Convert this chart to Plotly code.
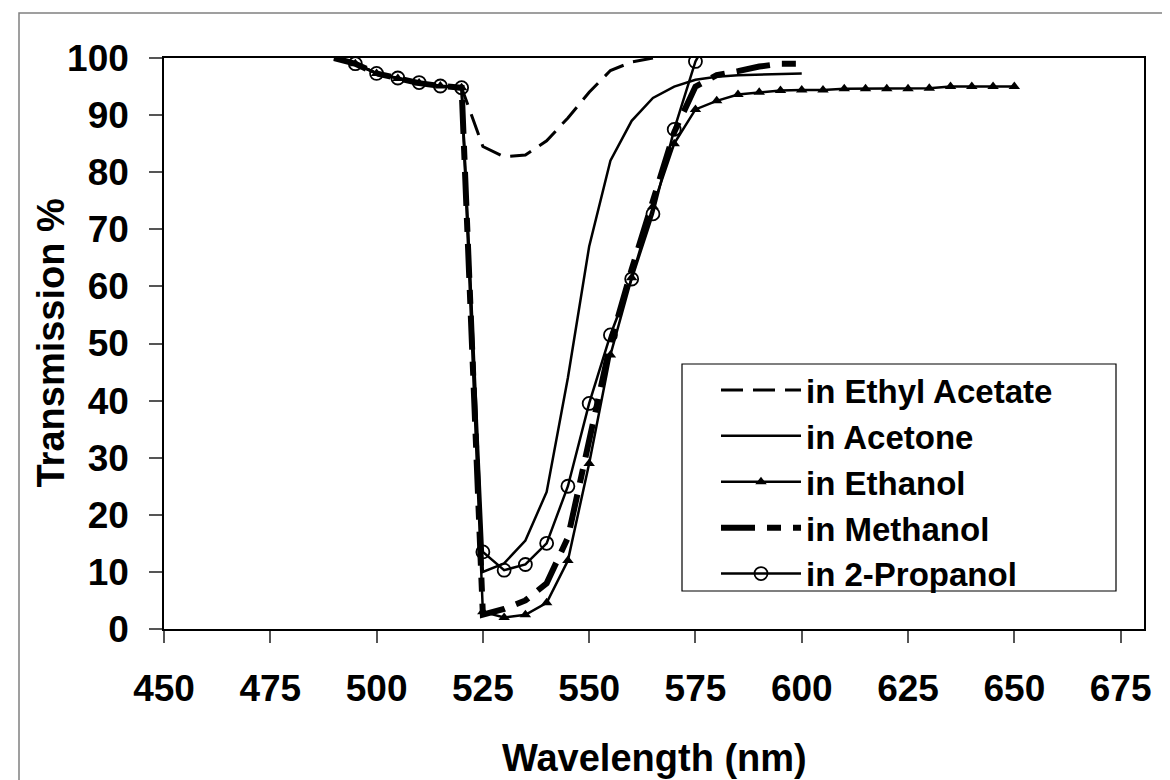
import plotly.graph_objects as go

# ---- data ----
wl_ethyl = [490, 495, 500, 505, 510, 515, 520, 525, 530, 535, 540, 545, 550, 555, 560, 565]
t_ethyl = [100, 99, 97.3, 96.4, 95.6, 95.1, 94.8, 84.5, 82.7, 83, 85.5, 89.5, 94, 97.8, 99.3, 100]

wl_acetone = [490, 495, 500, 505, 510, 515, 520, 525, 530, 535, 540, 545, 550, 555, 560, 565,
              570, 575, 580, 585, 590, 595, 600]
t_acetone = [100, 99, 97.3, 96.4, 95.6, 95.1, 94.8, 10, 11.5, 15.5, 24, 44, 67, 82, 89, 93,
             95, 96.2, 96.7, 97, 97.1, 97.2, 97.3]

wl_ethanol = [495, 500, 505, 510, 515, 520, 525, 530, 535, 540, 545, 550, 555, 560, 565, 570,
              575, 580, 585, 590, 595, 600, 605, 610, 615, 620, 625, 630, 635, 640, 645, 650]
t_ethanol = [99, 97.3, 96.4, 95.6, 95.1, 94.8, 3, 2, 2.5, 4.6, 12, 29, 48, 61.5, 74, 85,
             91, 92.5, 93.6, 94, 94.3, 94.4, 94.4, 94.6, 94.6, 94.6, 94.6, 94.7, 95, 95, 95, 95]

wl_methanol = [490, 495, 500, 505, 510, 515, 520, 525, 530, 535, 540, 545, 550, 555, 560, 565,
               570, 575, 580, 585, 590, 595, 600]
t_methanol = [100, 99, 97.3, 96.4, 95.6, 95.1, 94.8, 2.5, 3.5, 5, 8, 16, 33, 50, 63, 75,
              87, 95, 97, 97.7, 98.5, 99, 99]

wl_propanol = [495, 500, 505, 510, 515, 520, 525, 530, 535, 540, 545, 550, 555, 560, 565, 570,
               575, 580]
t_propanol = [99, 97.3, 96.5, 95.7, 95.1, 94.8, 13.5, 10.3, 11.3, 15, 25, 39.5, 51.5, 61.3,
              72.7, 87.5, 99.4, 106]

x_ticks = [450, 475, 500, 525, 550, 575, 600, 625, 650, 675]
y_ticks = [0, 10, 20, 30, 40, 50, 60, 70, 80, 90, 100]

FONT = "Arial, Liberation Sans, sans-serif"

fig = go.Figure()
fig.add_trace(go.Scatter(x=wl_ethyl, y=t_ethyl, mode="lines", name="in Ethyl Acetate",
                         line=dict(color="black", width=3, dash="22px,10px")))
fig.add_trace(go.Scatter(x=wl_acetone, y=t_acetone, mode="lines", name="in Acetone",
                         line=dict(color="black", width=2.5)))
fig.add_trace(go.Scatter(x=wl_ethanol, y=t_ethanol, mode="lines+markers", name="in Ethanol",
                         line=dict(color="black", width=2.5),
                         marker=dict(symbol="triangle-up", size=10, color="black")))
fig.add_trace(go.Scatter(x=wl_methanol, y=t_methanol, mode="lines", name="in Methanol",
                         line=dict(color="black", width=6, dash="34px,12px,14px,12px")))
fig.add_trace(go.Scatter(x=wl_propanol, y=t_propanol, mode="lines+markers", name="in 2-Propanol",
                         line=dict(color="black", width=2.5),
                         marker=dict(symbol="circle-open", size=13, color="black",
                                     line=dict(width=1.8, color="black"))))

OFF = 8  # page body margin
W, H = 1170, 780
L, T = 164 - OFF, 58 - OFF
R = W - (1144 - OFF)
B = H - (629 - OFF)
pw, ph = W - L - R, H - T - B


def px_x(p):
    return (p - OFF - L) / pw


def px_y(p):
    return (H - B - (p - OFF)) / ph


fig.update_layout(
    width=W, height=H,
    margin=dict(l=L, r=R, t=T, b=B, autoexpand=False),
    paper_bgcolor="white", plot_bgcolor="white",
    font=dict(family=FONT, color="black"),
    showlegend=True,
    legend=dict(
        x=px_x(716), y=px_y(362), xanchor="left", yanchor="top",
        bgcolor="rgba(0,0,0,0)", borderwidth=0,
        font=dict(family=FONT, size=33, color="black", weight="bold"),
        itemwidth=80, tracegroupgap=0,
    ),
    xaxis=dict(
        range=[450, 680.5], tickvals=x_ticks, ticktext=[str(v) for v in x_ticks],
        showgrid=False, zeroline=False,
        showline=True, linecolor="black", linewidth=2, mirror=True,
        ticks="outside", ticklen=12, tickwidth=1.5, tickcolor="#555",
        ticklabelstandoff=14,
        tickfont=dict(family=FONT, size=37, color="black", weight="bold"),
    ),
    yaxis=dict(
        range=[0, 100], tickvals=y_ticks, ticktext=[str(v) for v in y_ticks],
        showgrid=False, zeroline=False,
        showline=True, linecolor="black", linewidth=1.5, mirror=True,
        ticks="outside", ticklen=13, tickwidth=1.5, tickcolor="#555",
        ticklabelstandoff=13,
        tickfont=dict(family=FONT, size=37, color="black", weight="bold"),
    ),
    annotations=[
        dict(text="Wavelength (nm)", xref="paper", yref="paper", x=0.5, y=px_y(758),
             xanchor="center", yanchor="middle", showarrow=False,
             font=dict(family=FONT, size=38, color="black", weight="bold")),
        dict(text="Transmission %", xref="paper", yref="paper", x=px_x(50), y=0.5,
             xanchor="center", yanchor="middle", showarrow=False, textangle=-90,
             font=dict(family=FONT, size=38, color="black", weight="bold")),
    ],
    shapes=[
        # outer chart frame
        dict(type="rect", xref="paper", yref="paper",
             x0=px_x(19), y0=px_y(13), x1=px_x(1185), y1=px_y(800),
             line=dict(color="#808080", width=1.5), layer="below"),
        # legend frame
        dict(type="rect", xref="paper", yref="paper",
             x0=px_x(682), y0=px_y(364), x1=px_x(1116), y1=px_y(591),
             line=dict(color="black", width=1.2), fillcolor="white", layer="below"),
    ],
)

fig.write_html("out.html")
